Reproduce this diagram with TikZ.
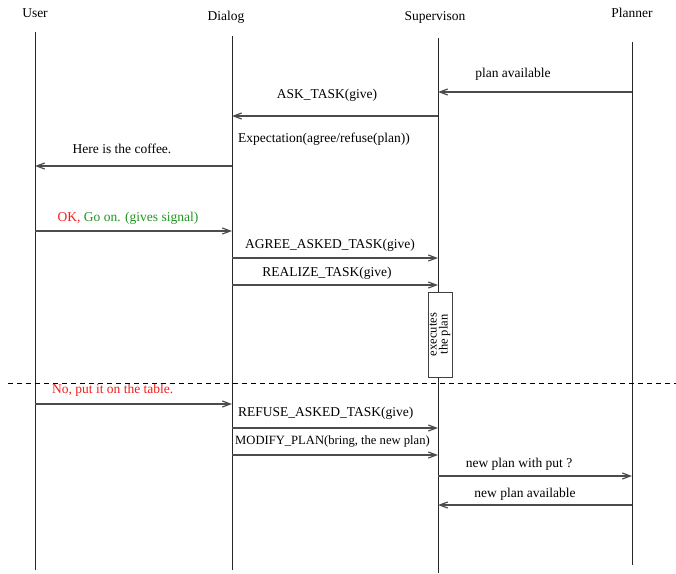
\documentclass[tikz,border=0pt]{standalone}
\usepackage{fontspec}
\setmainfont{Liberation Serif}
\usetikzlibrary{arrows.meta}
\definecolor{msgred}{RGB}{240,30,30}
\definecolor{msggreen}{RGB}{30,150,30}
\tikzset{
  life/.style={draw=black!85, line width=0.8pt},
  msg/.style={draw=black!70, line width=1.2pt, -{Straight Barb[length=8pt,width=6pt]}},
  lbl/.style={font=\fontsize{13.5}{15}\selectfont, inner sep=0pt},
  head/.style={font=\fontsize{13.5}{15}\selectfont, inner sep=0pt},
}
\begin{document}
\begin{tikzpicture}[x=1pt,y=-1pt]
\useasboundingbox (0,0) rectangle (676,573);
% heads
\node[head] (user) at (35,13) {User};
\node[head] (dialog) at (226,17) {Dialog};
\node[head] (sup) at (435,17) {Supervison};
\node[head] (plan) at (632,13) {Planner};
% lifeline ends
\coordinate (uT) at (35,32);  \coordinate (uB) at (35,570);
\coordinate (dT) at (232,36); \coordinate (dB) at (232,570);
\coordinate (sT) at (438,38); \coordinate (sB) at (438,573);
\coordinate (pT) at (632,42); \coordinate (pB) at (632,565);
\draw[life] (uT) -- (uB);
\draw[life] (dT) -- (dB);
\draw[life] (sT) -- (sB);
\draw[life] (pT) -- (pB);
% message end points
\coordinate (p1) at (632,92);  \coordinate (s1) at (438,92);
\coordinate (s2) at (438,116); \coordinate (d2) at (232,116);
\coordinate (d3) at (232,166); \coordinate (u3) at (35,166);
\coordinate (u4) at (35,231);  \coordinate (d4) at (232,231);
\coordinate (d5) at (232,258); \coordinate (s5) at (438,258);
\coordinate (d6) at (232,285); \coordinate (s6) at (438,285);
\coordinate (u7) at (35,404);  \coordinate (d7) at (232,404);
\coordinate (d8) at (232,428); \coordinate (s8) at (438,428);
\coordinate (d9) at (232,455); \coordinate (s9) at (438,455);
\coordinate (s10) at (438,476); \coordinate (p10) at (632,476);
\coordinate (p11) at (632,505); \coordinate (s11) at (438,505);
\draw[msg] (p1) -- (s1);
\draw[msg] (s2) -- (d2);
\draw[msg] (d3) -- (u3);
\draw[msg] (u4) -- (d4);
\draw[msg] (d5) -- (s5);
\draw[msg] (d6) -- (s6);
\draw[msg] (u7) -- (d7);
\draw[msg] (d8) -- (s8);
\draw[msg] (d9) -- (s9);
\draw[msg] (s10) -- (p10);
\draw[msg] (p11) -- (s11);
% labels
\node[lbl] (l1) at (513,74) {plan available};
\node[lbl] (l2) at (327,95) {ASK\_TASK(give)};
\node[lbl, anchor=west] (l3) at (238,139) {Expectation(agree/refuse(plan))};
\node[lbl] (l4) at (122,149) {Here is the coffee.};
\node[lbl] (l5) at (128,218) {\textcolor{msgred}{OK,} \textcolor{msggreen}{Go on. (gives signal)}};
\node[lbl] (l6) at (330,245) {AGREE\_ASKED\_TASK(give)};
\node[lbl] (l7) at (327,273) {REALIZE\_TASK(give)};
\node[lbl, anchor=west, text=msgred] (l8) at (52,390) {No, put it on the table.};
\node[lbl, anchor=west] (l9) at (238,413) {REFUSE\_ASKED\_TASK(give)};
\node[lbl, anchor=west, font=\fontsize{12.6}{14}\selectfont] (l10) at (235,441) {MODIFY\_PLAN(bring, the new plan)};
\node[lbl] (l11) at (519,464) {new plan with put ?};
\node[lbl] (l12) at (525,494) {new plan available};
% activation box
\node[draw=black!75, line width=0.9pt, fill=white, minimum width=24pt, minimum height=85pt, inner sep=0pt] (box) at (440,334.5) {};
\node[rotate=90, align=center, font=\fontsize{12.5}{11}\selectfont] (boxtxt) at (box.center) {executes\\the plan};
% separator
\coordinate (dashL) at (8,383); \coordinate (dashR) at (676,383);
\draw[black, line width=0.8pt, dash pattern=on 5pt off 4pt] (dashL) -- (dashR);
\end{tikzpicture}
\end{document}
